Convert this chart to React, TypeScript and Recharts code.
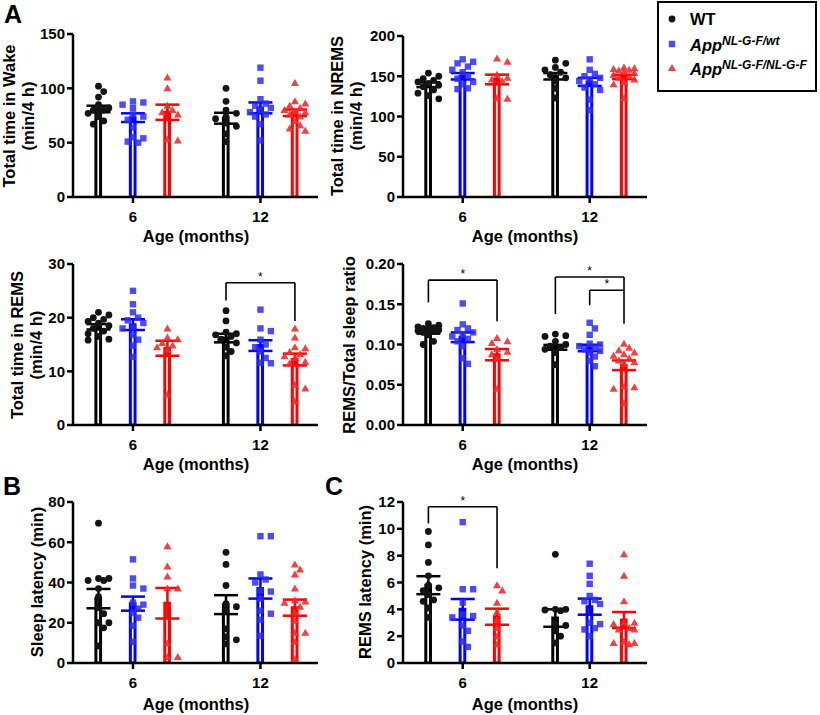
import React from "react";
import {
  ComposedChart,
  Bar,
  Cell,
  Scatter,
  XAxis,
  YAxis,
  ErrorBar,
  ReferenceLine,
} from "recharts";

// ---- data ----
const ages = ["6", "12"];
const genotypeKeys = ["wt", "het", "hom"];

// rows: WT, App NL-G-F/wt, App NL-G-F/NL-G-F ; columns: 6 mo, 12 mo
const wakeMeans = [[81, 72.5], [73, 82], [78, 77.5]];
const wakeSems = [[3, 5], [4, 5], [7, 3]];
const wakePoints = [
  [[102, 97, 92, 85, 82, 80, 80, 80, 77, 74, 70, 67], [100, 88, 80, 77, 74, 72, 68, 65, 58, 51]],
  [[88, 87, 85, 82, 76, 74, 71, 64, 55, 54, 51, 50], [119, 107, 90, 86, 84, 82, 80, 78, 76, 74, 67, 52]],
  [[110, 100, 84, 80, 78, 76, 53, 52], [105, 88, 86, 84, 82, 80, 79, 78, 76, 74, 70, 66, 63, 61]],
];

const nremsMeans = [[139.5, 150], [150, 143], [146, 149]];
const nremsSems = [[3, 4], [4, 5], [6, 2.5]];
const nremsPoints = [
  [[154, 150, 147, 145, 143, 141, 139, 137, 133, 129, 126, 122], [170, 166, 161, 158, 155, 152, 148, 144, 135, 123]],
  [[171, 168, 166, 162, 158, 155, 150, 147, 143, 140, 135, 134], [171, 158, 153, 150, 148, 146, 144, 140, 136, 133, 121, 108]],
  [[172, 168, 152, 148, 146, 144, 123, 122], [161, 160, 159, 158, 157, 156, 154, 152, 150, 148, 146, 143, 140, 123]],
];

const remsMeans = [[18.3, 16.2], [18.7, 14.8], [14.3, 12.2]];
const remsSems = [[0.5, 0.8], [1.0, 1.0], [1.4, 1.1]];
const remsPoints = [
  [[21, 20.5, 20, 19.7, 19.3, 19, 18.5, 18, 17.5, 17, 16.5, 16, 15.8], [21.3, 19.4, 17.3, 17, 16.8, 16.5, 16, 15.3, 14.5, 13.7, 12.9]],
  [[25, 22.5, 21, 20, 19.5, 19, 18.3, 18, 16.8, 15.9, 14.8, 12.7], [21.5, 18, 17.5, 15.9, 15, 14.5, 13.7, 12.5, 11.6, 11.5]],
  [[18, 16.3, 16, 15.3, 14.8, 14.5, 14, 5.7], [18, 16.3, 14.5, 14.3, 13.6, 13.2, 12.8, 12.5, 11.8, 11.5, 7.5, 6.8, 4.4]],
];
const remsBrackets = [{ age: 1, from: 0, to: 2, top: 26.5, ends: [23.2, 19.4] }];

const ratioMeans = [[0.1155, 0.0965], [0.109, 0.0957], [0.0874, 0.0742]];
const ratioSems = [[0.002, 0.003], [0.006, 0.004], [0.007, 0.006]];
const ratioPoints = [
  [[0.126, 0.124, 0.122, 0.121, 0.12, 0.119, 0.118, 0.117, 0.116, 0.115, 0.112, 0.104, 0.1], [0.113, 0.111, 0.11, 0.104, 0.1, 0.098, 0.096, 0.094, 0.09, 0.075]],
  [[0.151, 0.125, 0.12, 0.118, 0.115, 0.112, 0.11, 0.107, 0.104, 0.098, 0.083, 0.076], [0.127, 0.12, 0.112, 0.101, 0.1, 0.098, 0.096, 0.094, 0.092, 0.09, 0.085, 0.08, 0.073]],
  [[0.108, 0.104, 0.102, 0.094, 0.091, 0.088, 0.083, 0.045], [0.101, 0.096, 0.093, 0.09, 0.088, 0.086, 0.083, 0.08, 0.078, 0.076, 0.048, 0.047, 0.045, 0.027]],
];
const ratioBrackets = [
  { age: 0, from: 0, to: 2, top: 0.18, ends: [0.1524, 0.1288] },
  { age: 1, from: 0, to: 2, top: 0.1838, ends: [0.1379, 0.1259] },
  { age: 1, from: 1, to: 2, top: 0.1673, ends: [0.1487, 0.1673] },
];

const sleepLatMeans = [[32, 29], [29.5, 37], [29.7, 27.5]];
const sleepLatSems = [[4.8, 4.7], [3.5, 5], [7.6, 4]];
const sleepLatPoints = [
  [[69.5, 42, 42, 41, 41, 37, 33, 27.5, 24.5, 20, 20, 17.5, 8.5], [55, 49, 38.5, 29.5, 28, 26, 17, 13, 11.5, 9.5]],
  [[51.5, 42, 38.5, 37, 30, 29, 27, 25, 22.5, 18.5, 10.5], [63, 63, 44, 41.5, 40, 36, 35.5, 32, 26, 24.5, 21.5, 13.5]],
  [[58, 48, 43, 37, 37, 9.8, 3, 3], [49, 46.5, 44, 37, 31, 30.5, 30, 28, 25, 21, 15, 15, 10.5, 2]],
];

const remsLatMeans = [[5.8, 3.35], [4.0, 4.2], [3.45, 3.2]];
const remsLatSems = [[0.67, 0.65], [0.77, 0.6], [0.6, 0.6]];
const remsLatPoints = [
  [[9.8, 8.8, 7.5, 6.5, 5.8, 5.6, 5.4, 5.1, 4.7, 4.6, 4.1, 3.4], [8.1, 4.0, 4.0, 3.95, 3.9, 2.9, 2.8, 2.4, 2.0, 1.5]],
  [[10.5, 5.5, 5.5, 4.5, 3.6, 3.5, 3.4, 2.8, 2.4, 1.6, 1.2], [7.4, 6.5, 5.9, 5.0, 4.7, 4.6, 4.4, 3.0, 2.9, 2.6, 2.5, 2.0]],
  [[5.8, 5.4, 4.5, 3.8, 3.2, 2.6, 2.0, 1.4], [8.1, 6.5, 4.6, 3.0, 3.0, 2.9, 2.6, 2.5, 2.5, 1.6, 1.5, 1.5, 1.4]],
];
const remsLatBrackets = [{ age: 0, from: 0, to: 2, top: 11.65, ends: [10.4, 7.06] }];

// ---- layout ----
const FONT = "'Liberation Sans', Arial, Helvetica, sans-serif";
const barColors = ["#000000", "#0000ff", "#ff0000"];
const dotColors = ["#141414", "#2b2bff", "#f22b2b"];
const GROUP_START = [1, 4.7];
const X_DOMAIN = [0.26, 7.37];
const Y_AXIS_W = 73;
const X_AXIS_H = 48;

// simple beeswarm so overlapping points spread sideways like GraphPad
function swarm(values: number[], center: number, pxY: number, pxX: number) {
  const placed: { dx: number; py: number }[] = [];
  const sorted = [...values].sort((a, b) => b - a);
  const cands = [0, 1, -1, 2, -2];
  return sorted.map((v) => {
    const py = v * pxY;
    let best = 0;
    let bestScore = -1;
    for (const k of cands) {
      const dx = k * 5.2;
      let minD = Infinity;
      for (const p of placed) minD = Math.min(minD, Math.hypot(p.dx - dx, p.py - py));
      if (minD >= 6.5) {
        best = dx;
        bestScore = Infinity;
        break;
      }
      if (minD > bestScore) {
        bestScore = minD;
        best = dx;
      }
    }
    placed.push({ dx: best, py });
    return { x: center + best / pxX, y: v };
  });
}

const DotShape = (p: any) => <circle cx={p.cx} cy={p.cy} r={3.4} fill={dotColors[0]} />;
const SquareShape = (p: any) => (
  <rect x={p.cx - 3.2} y={p.cy - 3.2} width={6.4} height={6.4} fill={dotColors[1]} fillOpacity={0.85} />
);
const TriShape = (p: any) => (
  <polygon
    points={`${p.cx},${p.cy - 4} ${p.cx + 4},${p.cy + 3} ${p.cx - 4},${p.cy + 3}`}
    fill={dotColors[2]}
    fillOpacity={0.9}
  />
);
const shapes = [DotShape, SquareShape, TriShape];
const NoShape = () => <g />;

type PanelProps = {
  left: number;
  top: number;
  width: number;
  height: number;
  marginTop: number;
  marginRight: number;
  yMax: number;
  yTicks: number[];
  decimals: number;
  means: number[][];
  sems: number[][];
  points: number[][][];
  brackets?: any[];
};

const axisStyle = { stroke: "#000", strokeWidth: 2.5 };
const tickStyle = { fill: "#000", fontSize: 15, fontWeight: 700, fontFamily: FONT };

const Panel = (props: PanelProps) => {
  const { left, top, width, height, marginTop, marginRight, yMax, yTicks, decimals, means, sems, points } = props;
  const plotW = width - Y_AXIS_W - marginRight;
  const plotH = height - marginTop - X_AXIS_H;
  const pxX = plotW / (X_DOMAIN[1] - X_DOMAIN[0]);
  const pxY = plotH / yMax;

  const rows: any[] = [];
  ages.forEach((_, a) => {
    genotypeKeys.forEach((_k, g) => {
      rows.push({ x: GROUP_START[a] + g, mean: means[g][a], g });
    });
  });

  const errData = genotypeKeys.map((_k, g) =>
    ages.map((_, a) => ({ x: GROUP_START[a] + g, y: means[g][a], e: sems[g][a] }))
  );

  const scatterData = genotypeKeys.map((_, g) =>
    ages.flatMap((_, a) => swarm(points[g][a], GROUP_START[a] + g, pxY, pxX))
  );

  const lineProps = { stroke: "#000", strokeWidth: 1.6, ifOverflow: "visible" as const };

  return (
    <div style={{ position: "absolute", left, top }}>
      <ComposedChart
        width={width}
        height={height}
        data={rows}
        margin={{ top: marginTop, right: marginRight, left: 0, bottom: 0 }}
      >
        <XAxis
          type="number"
          dataKey="x"
          domain={X_DOMAIN}
          allowDataOverflow
          ticks={GROUP_START.map((s) => s + 1)}
          interval={0}
          tickFormatter={(v: number) => ages[GROUP_START.findIndex((s) => Math.abs(s + 1 - v) < 0.01)]}
          height={X_AXIS_H}
          tickSize={6}
          tickMargin={8}
          axisLine={axisStyle}
          tickLine={axisStyle}
          tick={tickStyle}
        />
        <YAxis
          type="number"
          domain={[0, yMax]}
          ticks={yTicks}
          interval={0}
          allowDataOverflow
          width={Y_AXIS_W}
          tickSize={6}
          tickMargin={2}
          axisLine={axisStyle}
          tickLine={axisStyle}
          tick={tickStyle}
          tickFormatter={(v: number) => v.toFixed(decimals)}
        />
        <Bar dataKey="mean" barSize={20} fill="#ffffff" strokeWidth={3} isAnimationActive={false}>
          {rows.map((r, i) => (
            <Cell key={i} stroke={barColors[r.g]} />
          ))}
        </Bar>
        {genotypeKeys.map((k, g) => (
          <Scatter key={"e" + k} data={errData[g]} dataKey="y" shape={NoShape} isAnimationActive={false}>
            <ErrorBar dataKey="e" direction="y" width={12} stroke={barColors[g]} strokeWidth={2.5} />
          </Scatter>
        ))}
        {genotypeKeys.map((k, g) => (
          <Scatter key={"s" + k} data={scatterData[g]} dataKey="y" shape={shapes[g]} isAnimationActive={false} />
        ))}
        {(props.brackets || []).flatMap((b, i) => {
          const x1 = GROUP_START[b.age] + b.from;
          const x2 = GROUP_START[b.age] + b.to;
          return [
            <ReferenceLine key={`l${i}`} {...lineProps} segment={[{ x: x1, y: b.ends[0] }, { x: x1, y: b.top }]} />,
            <ReferenceLine
              key={`t${i}`}
              {...lineProps}
              segment={[{ x: x1, y: b.top }, { x: x2, y: b.top }]}
              label={{ value: "*", position: "top", fill: "#000", fontSize: 12, offset: 2, fontFamily: FONT }}
            />,
            <ReferenceLine key={`r${i}`} {...lineProps} segment={[{ x: x2, y: b.top }, { x: x2, y: b.ends[1] }]} />,
          ];
        })}
      </ComposedChart>
    </div>
  );
};

const VTitle = ({ x, y, lines }: { x: number; y: number; lines: string[] }) => (
  <div
    style={{
      position: "absolute",
      left: x,
      top: y,
      transform: "translate(-50%, -50%) rotate(-90deg)",
      whiteSpace: "nowrap",
      textAlign: "center",
      fontSize: 16.5,
      fontWeight: 700,
      lineHeight: "19px",
    }}
  >
    {lines.map((l) => (
      <div key={l}>{l}</div>
    ))}
  </div>
);

const HTitle = ({ x, y, text }: { x: number; y: number; text: string }) => (
  <div
    style={{
      position: "absolute",
      left: x,
      top: y,
      transform: "translate(-50%, -50%)",
      whiteSpace: "nowrap",
      fontSize: 16.5,
      fontWeight: 700,
      lineHeight: 1,
    }}
  >
    {text}
  </div>
);

const Letter = ({ x, y, text }: { x: number; y: number; text: string }) => (
  <div style={{ position: "absolute", left: x, top: y, fontSize: 25, fontWeight: 700, lineHeight: 1 }}>{text}</div>
);

const LegendRow = ({ y, g, children }: { y: number; g: number; children: React.ReactNode }) => {
  const Shape = shapes[g];
  return (
    <div style={{ position: "absolute", left: 0, top: y, height: 20, display: "flex", alignItems: "center" }}>
      <svg width={24} height={20} style={{ marginLeft: 2 }}>
        <Shape cx={11} cy={10} />
      </svg>
      <div style={{ marginLeft: 5, fontSize: 16.5, fontWeight: 700, whiteSpace: "nowrap" }}>{children}</div>
    </div>
  );
};

const Sup = ({ text }: { text: string }) => (
  <span>
    <i>App</i>
    <i style={{ fontSize: 12, verticalAlign: 6 }}>{text}</i>
  </span>
);

export default function App() {
  return (
    <div
      style={{
        position: "absolute",
        left: 0,
        top: 0,
        width: 820,
        height: 715,
        background: "#fff",
        fontFamily: FONT,
        color: "#000",
      }}
    >
      <Panel left={0} top={0} width={330} height={245} marginTop={34} marginRight={12} yMax={150}
        yTicks={[0, 50, 100, 150]} decimals={0} means={wakeMeans} sems={wakeSems} points={wakePoints} />
      <Panel left={330} top={0} width={330} height={245} marginTop={36} marginRight={13} yMax={200}
        yTicks={[0, 50, 100, 150, 200]} decimals={0} means={nremsMeans} sems={nremsSems} points={nremsPoints} />
      <Panel left={0} top={240} width={330} height={233} marginTop={24} marginRight={12} yMax={30}
        yTicks={[0, 10, 20, 30]} decimals={0} means={remsMeans} sems={remsSems} points={remsPoints}
        brackets={remsBrackets} />
      <Panel left={330} top={240} width={330} height={233} marginTop={24} marginRight={13} yMax={0.2}
        yTicks={[0, 0.05, 0.1, 0.15, 0.2]} decimals={2} means={ratioMeans} sems={ratioSems} points={ratioPoints}
        brackets={ratioBrackets} />
      <Panel left={0} top={470} width={330} height={241} marginTop={32} marginRight={12} yMax={80}
        yTicks={[0, 20, 40, 60, 80]} decimals={0} means={sleepLatMeans} sems={sleepLatSems} points={sleepLatPoints} />
      <Panel left={330} top={470} width={330} height={241} marginTop={32} marginRight={13} yMax={12}
        yTicks={[0, 2, 4, 6, 8, 10, 12]} decimals={0} means={remsLatMeans} sems={remsLatSems} points={remsLatPoints}
        brackets={remsLatBrackets} />

      <VTitle x={19} y={116} lines={["Total time in Wake", "(min/4 h)"]} />
      <VTitle x={347} y={116} lines={["Total time in NREMS", "(min/4 h)"]} />
      <VTitle x={27} y={345} lines={["Total time in REMS", "(min/4 h)"]} />
      <VTitle x={349} y={345} lines={["REMS/Total sleep ratio"]} />
      <VTitle x={37} y={582} lines={["Sleep latency (min)"]} />
      <VTitle x={365} y={582} lines={["REMS latency (min)"]} />

      <HTitle x={196} y={236} text="Age (months)" />
      <HTitle x={525} y={236} text="Age (months)" />
      <HTitle x={196} y={464} text="Age (months)" />
      <HTitle x={525} y={464} text="Age (months)" />
      <HTitle x={196} y={704} text="Age (months)" />
      <HTitle x={525} y={704} text="Age (months)" />

      <Letter x={4} y={2} text="A" />
      <Letter x={3} y={474} text="B" />
      <Letter x={325} y={474} text="C" />

      <div
        style={{
          position: "absolute",
          left: 657,
          top: 1,
          width: 156,
          height: 87,
          border: "2px solid #000",
        }}
      >
        <LegendRow y={6} g={0}>WT</LegendRow>
        <LegendRow y={31} g={1}><Sup text="NL-G-F/wt" /></LegendRow>
        <LegendRow y={55} g={2}><Sup text="NL-G-F/NL-G-F" /></LegendRow>
      </div>
    </div>
  );
}
